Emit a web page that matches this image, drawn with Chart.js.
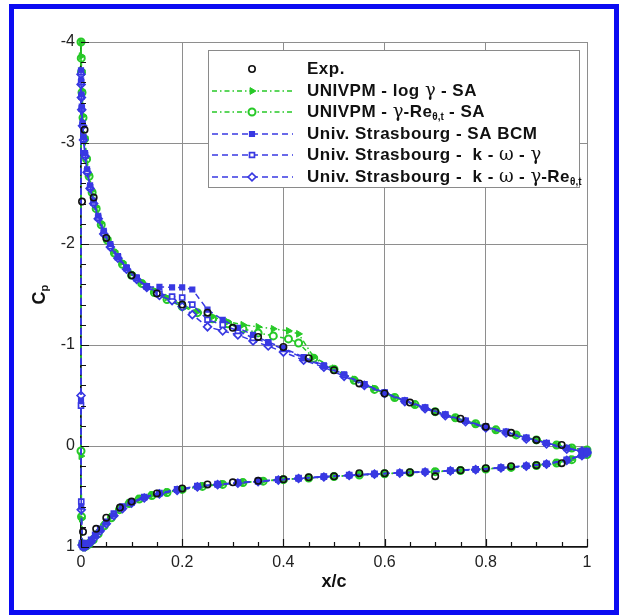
<!DOCTYPE html>
<html>
<head>
<meta charset="utf-8">
<script src="https://cdn.jsdelivr.net/npm/chart.js@4.4.1/dist/chart.umd.min.js"></script>
<style>
  html, body { margin: 0; padding: 0; background: #fff; }
  #wrap { position: relative; width: 619px; height: 615px; }
  #frame { position: absolute; left: 9px; top: 4px; width: 610px; height: 611px;
           box-sizing: border-box; border: 5px solid #0b0bf2; pointer-events: none; }
</style>
</head>
<body>
<div id="wrap">
  <canvas id="cpChart" width="619" height="615"></canvas>
  <div id="frame"></div>
</div>
<script>
// experiment
const expUpX  = [0.002, 0.007, 0.025, 0.05, 0.1, 0.15, 0.2, 0.25, 0.3, 0.35, 0.4, 0.45, 0.5, 0.55, 0.6, 0.65, 0.7, 0.75, 0.8, 0.85, 0.9, 0.95];
const expUpCp = [-2.42, -3.13, -2.46, -2.06, -1.69, -1.51, -1.40, -1.32, -1.17, -1.08, -0.98, -0.87, -0.75, -0.62, -0.52, -0.43, -0.34, -0.27, -0.19, -0.13, -0.06, -0.01];
const expLoX  = [0.004, 0.03, 0.05, 0.077, 0.1, 0.15, 0.2, 0.25, 0.3, 0.35, 0.4, 0.45, 0.5, 0.55, 0.6, 0.65, 0.7, 0.75, 0.8, 0.85, 0.9, 0.95];
const expLoCp = [0.85, 0.82, 0.71, 0.61, 0.55, 0.47, 0.42, 0.38, 0.36, 0.345, 0.33, 0.31, 0.30, 0.27, 0.27, 0.26, 0.30, 0.24, 0.22, 0.20, 0.19, 0.17];

// UNIVPM grids (upper surface LE->TE, lower surface LE->TE)
const gUpX = [0, 0.0005, 0.001, 0.002, 0.004, 0.007, 0.011, 0.016, 0.022, 0.03, 0.04, 0.052, 0.066, 0.082, 0.1, 0.12, 0.145, 0.17, 0.2, 0.23, 0.26, 0.29, 0.32, 0.35, 0.38, 0.41, 0.43, 0.46, 0.5, 0.54, 0.58, 0.62, 0.66, 0.7, 0.74, 0.78, 0.82, 0.86, 0.9, 0.94, 0.97, 1.0];
const gLoX = [0, 0.001, 0.003, 0.006, 0.01, 0.016, 0.024, 0.034, 0.046, 0.06, 0.076, 0.095, 0.115, 0.14, 0.17, 0.2, 0.24, 0.28, 0.32, 0.36, 0.4, 0.45, 0.5, 0.55, 0.6, 0.65, 0.7, 0.75, 0.8, 0.85, 0.9, 0.94, 0.97, 1.0];

const logGammaUp = [-4.00, -3.86, -3.72, -3.52, -3.27, -3.06, -2.86, -2.69, -2.53, -2.37, -2.21, -2.06, -1.93, -1.82, -1.71, -1.62, -1.54, -1.47, -1.40, -1.33, -1.28, -1.23, -1.20, -1.18, -1.16, -1.14, -1.11, -0.88, -0.77, -0.66, -0.57, -0.48, -0.41, -0.34, -0.28, -0.22, -0.16, -0.11, -0.06, -0.01, 0.02, 0.04];
const logGammaLo = [0.10, 0.72, 0.98, 1.00, 0.99, 0.96, 0.92, 0.86, 0.78, 0.70, 0.62, 0.56, 0.52, 0.485, 0.455, 0.425, 0.395, 0.375, 0.36, 0.345, 0.33, 0.315, 0.30, 0.285, 0.272, 0.262, 0.252, 0.24, 0.225, 0.21, 0.19, 0.165, 0.13, 0.08];
const gammaReUp = [-4.00, -3.84, -3.70, -3.50, -3.25, -3.04, -2.84, -2.67, -2.51, -2.35, -2.19, -2.04, -1.91, -1.80, -1.69, -1.61, -1.52, -1.45, -1.38, -1.32, -1.26, -1.21, -1.16, -1.12, -1.09, -1.06, -1.02, -0.87, -0.76, -0.65, -0.56, -0.48, -0.41, -0.34, -0.28, -0.22, -0.16, -0.11, -0.06, -0.01, 0.02, 0.04];
const gammaReLo = [0.05, 0.70, 0.97, 1.00, 0.99, 0.97, 0.93, 0.87, 0.79, 0.71, 0.63, 0.57, 0.525, 0.49, 0.46, 0.43, 0.40, 0.38, 0.362, 0.348, 0.333, 0.318, 0.303, 0.288, 0.275, 0.264, 0.254, 0.243, 0.228, 0.212, 0.193, 0.168, 0.135, 0.085];

// Strasbourg grids
const sUpX = [0, 0.0003, 0.0008, 0.0015, 0.003, 0.005, 0.008, 0.012, 0.018, 0.025, 0.034, 0.045, 0.058, 0.073, 0.09, 0.11, 0.13, 0.155, 0.18, 0.2, 0.22, 0.25, 0.28, 0.31, 0.34, 0.37, 0.4, 0.44, 0.48, 0.52, 0.56, 0.6, 0.64, 0.68, 0.72, 0.76, 0.8, 0.84, 0.88, 0.92, 0.96, 0.99, 1.0];
const sLoX = [0, 0.0005, 0.002, 0.004, 0.008, 0.013, 0.02, 0.028, 0.038, 0.05, 0.065, 0.082, 0.1, 0.125, 0.155, 0.19, 0.23, 0.27, 0.31, 0.35, 0.39, 0.43, 0.48, 0.53, 0.58, 0.63, 0.68, 0.73, 0.78, 0.83, 0.88, 0.92, 0.96, 0.99, 1.0];

const bcmUp = [-3.72, -3.62, -3.48, -3.36, -3.20, -3.06, -2.90, -2.74, -2.58, -2.43, -2.28, -2.13, -2.00, -1.88, -1.77, -1.67, -1.575, -1.575, -1.57, -1.57, -1.55, -1.35, -1.25, -1.17, -1.10, -1.03, -0.97, -0.88, -0.80, -0.71, -0.61, -0.53, -0.45, -0.38, -0.31, -0.25, -0.19, -0.14, -0.08, -0.03, 0.02, 0.05, 0.06];
const bcmLo = [-0.45, 0.60, 0.97, 1.00, 1.00, 0.97, 0.94, 0.89, 0.83, 0.76, 0.68, 0.61, 0.56, 0.51, 0.47, 0.435, 0.40, 0.38, 0.365, 0.35, 0.335, 0.32, 0.305, 0.29, 0.277, 0.266, 0.256, 0.245, 0.232, 0.216, 0.198, 0.178, 0.14, 0.09, 0.06];
const kwgUp = [-3.70, -3.60, -3.46, -3.34, -3.18, -3.04, -2.88, -2.72, -2.56, -2.41, -2.26, -2.11, -1.98, -1.87, -1.76, -1.66, -1.58, -1.51, -1.48, -1.47, -1.40, -1.25, -1.20, -1.14, -1.07, -1.02, -0.96, -0.87, -0.79, -0.70, -0.61, -0.53, -0.45, -0.38, -0.31, -0.25, -0.19, -0.14, -0.08, -0.03, 0.02, 0.05, 0.06];
const kwgLo = [-0.40, 0.55, 0.96, 1.00, 0.99, 0.96, 0.93, 0.88, 0.82, 0.75, 0.67, 0.60, 0.555, 0.505, 0.465, 0.43, 0.398, 0.378, 0.362, 0.348, 0.333, 0.318, 0.303, 0.288, 0.276, 0.265, 0.255, 0.244, 0.23, 0.214, 0.196, 0.176, 0.138, 0.09, 0.05];
const kwgReUp = [-3.68, -3.58, -3.45, -3.33, -3.17, -3.03, -2.87, -2.71, -2.55, -2.40, -2.25, -2.10, -1.97, -1.86, -1.75, -1.65, -1.57, -1.49, -1.44, -1.38, -1.30, -1.18, -1.14, -1.10, -1.04, -0.99, -0.93, -0.85, -0.78, -0.69, -0.60, -0.52, -0.44, -0.37, -0.30, -0.24, -0.18, -0.13, -0.07, -0.02, 0.03, 0.05, 0.06];
const kwgReLo = [-0.50, 0.63, 0.98, 1.00, 1.00, 0.98, 0.95, 0.90, 0.84, 0.77, 0.69, 0.62, 0.565, 0.515, 0.475, 0.44, 0.405, 0.383, 0.368, 0.352, 0.337, 0.322, 0.307, 0.292, 0.279, 0.268, 0.258, 0.247, 0.234, 0.218, 0.2, 0.18, 0.142, 0.095, 0.07];

const xTicks = [0, 0.2, 0.4, 0.6, 0.8, 1];
const yTicks = [-4, -3, -2, -1, 0, 1];

const GREEN = '#27c927';
const BLUE = '#3838e2';

// trailing edge -> leading edge along the lower side, then back along the upper side
function loop(loX, loCp, upX, upCp) {
    const pts = [];
    for (let i = loX.length - 1; i >= 0; i--) pts.push({ x: loX[i], y: loCp[i] });
    upX.forEach((x, i) => pts.push({ x: x, y: upCp[i] }));
    return pts;
}
function pairs(xs, ys) {
    return xs.map((x, i) => ({ x: x, y: ys[i] }));
}

const series = [
    {
        label: 'Exp.',
        data: pairs(expLoX, expLoCp).concat(pairs(expUpX, expUpCp)),
        showLine: false,
        pointStyle: 'circle', pointRadius: 3.2, pointBorderWidth: 1.6,
        borderColor: '#111', pointBackgroundColor: 'rgba(255,255,255,0)'
    },
    {
        label: 'SA BCM',
        data: loop(sLoX, bcmLo, sUpX, bcmUp),
        borderColor: BLUE, borderDash: [6, 4],
        pointStyle: 'rect', pointRadius: 3.5, pointBorderWidth: 1.2,
        pointBackgroundColor: BLUE
    },
    {
        label: 'k-w-g',
        data: loop(sLoX, kwgLo, sUpX, kwgUp),
        borderColor: BLUE, borderDash: [6, 4],
        pointStyle: 'rect', pointRadius: 3.5, pointBorderWidth: 1.7,
        pointBackgroundColor: '#fff'
    },
    {
        label: 'k-w-g-Re',
        data: loop(sLoX, kwgReLo, sUpX, kwgReUp),
        borderColor: BLUE, borderDash: [6, 4],
        pointStyle: 'rectRot', pointRadius: 3.9, pointBorderWidth: 1.7,
        pointBackgroundColor: '#fff'
    },
    {
        label: 'log g',
        data: loop(gLoX, logGammaLo, gUpX, logGammaUp),
        borderColor: GREEN, borderDash: [5, 3, 1.5, 3],
        pointStyle: 'triangle', rotation: 90, pointRadius: 3.9, pointBorderWidth: 1,
        pointBackgroundColor: GREEN
    },
    {
        label: 'g-Re',
        data: loop(gLoX, gammaReLo, gUpX, gammaReUp),
        borderColor: GREEN, borderDash: [5, 3, 1.5, 3],
        pointStyle: 'circle', pointRadius: 3.5, pointBorderWidth: 2,
        pointBackgroundColor: '#fff'
    }
];

const legendRows = [
    { ds: 0, text: [['Exp.', 'b']] },
    { ds: 4, text: [['UNIVPM - log ', 'b'], ['\u03b3', 'g'], [' - SA', 'b']] },
    { ds: 5, text: [['UNIVPM - ', 'b'], ['\u03b3', 'g'], ['-Re', 'b'], ['\u03b8,t', 's'], [' - SA', 'b']] },
    { ds: 1, text: [['Univ. Strasbourg - SA BCM', 'b']] },
    { ds: 2, text: [['Univ. Strasbourg -  k - ', 'b'], ['\u03c9', 'g'], [' - ', 'b'], ['\u03b3', 'g']] },
    { ds: 3, text: [['Univ. Strasbourg -  k - ', 'b'], ['\u03c9', 'g'], [' - ', 'b'], ['\u03b3', 'g'], ['-Re', 'b'], ['\u03b8,t', 's']] }
];

const fonts = {
    b: 'bold 17px "Liberation Sans", Arial, sans-serif',
    g: '18px "DejaVu Serif", serif',
    s: 'bold 10px "Liberation Sans", Arial, sans-serif'
};

function drawRich(ctx, segs, x, y) {
    for (const [t, s] of segs) {
        ctx.font = fonts[s];
        ctx.letterSpacing = s === 'b' ? '0.5px' : '0px';
        ctx.fillText(t, x, y + (s === 's' ? 5 : 0));
        x += ctx.measureText(t).width;
    }
    ctx.letterSpacing = '0px';
}

// inward ticks, axis titles and the boxed legend
const decorations = {
    id: 'decorations',
    afterDraw(chart) {
        const { ctx, chartArea: a } = chart;
        const sx = chart.scales.x, sy = chart.scales.y;
        ctx.save();
        ctx.strokeStyle = '#111';
        ctx.lineWidth = 1.2;
        ctx.beginPath();
        for (let i = 0; i <= 20; i++) {
            const px = Math.round(sx.getPixelForValue(i * 0.05)) + 0.5;
            ctx.moveTo(px, a.bottom);
            ctx.lineTo(px, a.bottom - (i % 4 === 0 ? 8 : 5));
        }
        for (let i = 0; i <= 25; i++) {
            const py = Math.round(sy.getPixelForValue(-4 + i * 0.2)) + 0.5;
            ctx.moveTo(a.left, py);
            ctx.lineTo(a.left + (i % 5 === 0 ? 8 : 5), py);
        }
        ctx.stroke();

        // axis titles
        ctx.fillStyle = '#111';
        ctx.textBaseline = 'middle';
        ctx.textAlign = 'center';
        ctx.font = 'bold 18px "Liberation Sans", Arial, sans-serif';
        ctx.fillText('x/c', (a.left + a.right) / 2, 582);
        ctx.save();
        ctx.translate(40, (a.top + a.bottom) / 2);
        ctx.rotate(-Math.PI / 2);
        ctx.textAlign = 'left';
        ctx.fillText('C', -10, 0);
        ctx.font = 'bold 11px "Liberation Sans", Arial, sans-serif';
        ctx.fillText('p', 3, 5);
        ctx.restore();

        // legend
        const box = { x: 208.5, y: 50.5, w: 371, h: 137 };
        ctx.fillStyle = '#fff';
        ctx.fillRect(box.x, box.y, box.w, box.h);
        ctx.strokeStyle = '#8a8a8a';
        ctx.lineWidth = 1;
        ctx.strokeRect(box.x, box.y, box.w, box.h);
        const rowY = [69, 91, 112, 134, 155, 177];
        ctx.textAlign = 'left';
        legendRows.forEach((row, i) => {
            const ds = chart.data.datasets[row.ds];
            const y = rowY[i];
            if (ds.showLine !== false) {
                ctx.save();
                ctx.strokeStyle = ds.borderColor;
                ctx.lineWidth = 1.4;
                ctx.setLineDash(ds.borderDash || []);
                ctx.beginPath();
                ctx.moveTo(212, y);
                ctx.lineTo(293, y);
                ctx.stroke();
                ctx.restore();
            }
            ctx.save();
            ctx.strokeStyle = ds.borderColor;
            ctx.fillStyle = ds.pointBackgroundColor;
            ctx.lineWidth = ds.pointBorderWidth;
            Chart.helpers.drawPoint(ctx, {
                pointStyle: ds.pointStyle,
                rotation: ds.rotation || 0,
                radius: ds.pointRadius,
                borderWidth: ds.pointBorderWidth
            }, 252, y);
            ctx.restore();
            ctx.fillStyle = '#111';
            drawRich(ctx, row.text, 307, y);
        });
        ctx.restore();
    }
};

const ctx = document.getElementById('cpChart').getContext('2d');
new Chart(ctx, {
    type: 'scatter',
    data: {
        datasets: series.map(s => Object.assign({
            showLine: true,
            borderWidth: 1.5,
            pointHoverRadius: 4,
            clip: false
        }, s))
    },
    options: {
        responsive: false,
        animation: false,
        layout: { padding: { top: 42, right: 32, left: 0, bottom: 0 } },
        plugins: { legend: { display: false }, tooltip: { enabled: false } },
        scales: {
            x: {
                type: 'linear', min: 0, max: 1,
                afterFit: s => { s.height = 68; },
                afterBuildTicks: s => { s.ticks = xTicks.map(v => ({ value: v })); },
                grid: { color: '#8e8e8e', lineWidth: 1, drawTicks: false },
                border: { color: '#111', width: 1.6 },
                ticks: {
                    padding: 6,
                    color: '#222',
                    font: { family: '"Liberation Sans", Arial, sans-serif', size: 16 },
                    callback: v => (Math.abs(v) < 1e-9 ? '0' : Math.abs(v - 1) < 1e-9 ? '1' : v.toFixed(1))
                }
            },
            y: {
                type: 'linear', min: -4, max: 1, reverse: true,
                afterFit: s => { s.width = 81; },
                afterBuildTicks: s => { s.ticks = yTicks.map(v => ({ value: v })); },
                grid: { color: '#8e8e8e', lineWidth: 1, drawTicks: false },
                border: { color: '#111', width: 1.6 },
                ticks: {
                    padding: 6,
                    color: '#222',
                    font: { family: '"Liberation Sans", Arial, sans-serif', size: 16 },
                    callback: v => String(Math.round(v))
                }
            }
        }
    },
    plugins: [decorations]
});
</script>
</body>
</html>
